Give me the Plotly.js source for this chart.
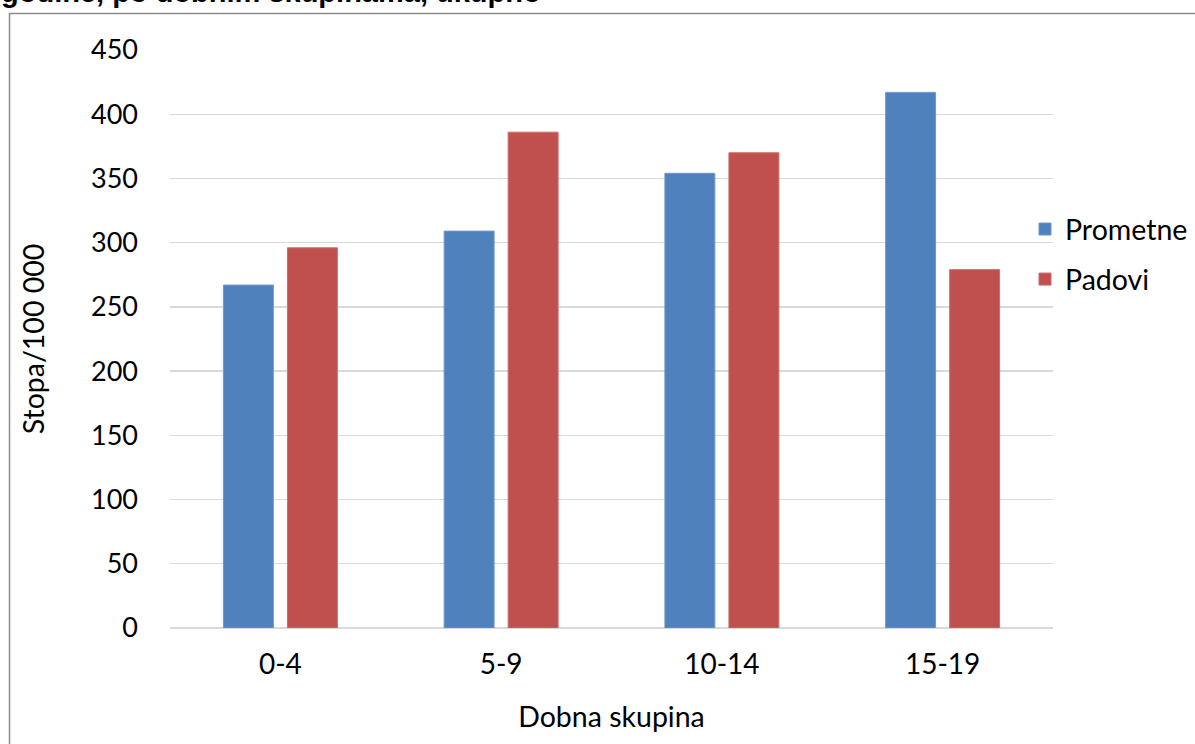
<!DOCTYPE html>
<html>
<head>
<meta charset="utf-8">
<script src="https://cdn.plot.ly/plotly-3.0.1.min.js"></script>
<style>html,body{margin:0;padding:0;background:#fff;}#chart{width:1195px;height:744px;}</style>
</head>
<body>
<div id="chart"></div>
<script>
const categories = ["0-4", "5-9", "10-14", "15-19"];
const prometne = [267, 309, 354, 417];
const padovi = [296, 386, 370, 279];
const seriesNames = ["Prometne", "Padovi"];
const titleText = "godine, po dobnim skupinama, ukupno";
const yTitle = "Stopa/100 000";
const xTitle = "Dobna skupina";

const FONT = "Lato, 'Open Sans', sans-serif";
const L = 170, R = 142, T = 50, B = 116;
const W = 1195, H = 744;
const pw = W - L - R, ph = H - T - B;
const px = v => (v - L) / pw;
const py = v => (H - B - v) / ph;

const traces = [
  {type: "bar", name: seriesNames[0], x: categories, y: prometne, legendgroup: "a",
   marker: {color: "#4f81bd", line: {color: "#6d97cc", width: 1}}, hoverinfo: "x+y"},
  {type: "bar", name: seriesNames[1], x: categories, y: padovi, legendgroup: "b",
   marker: {color: "#c0504d", line: {color: "#cf6b68", width: 1}}, hoverinfo: "x+y"}
];

const layout = {
  width: W, height: H,
  margin: {l: L, r: R, t: T, b: B, pad: 0, autoexpand: false},
  paper_bgcolor: "#fff", plot_bgcolor: "#fff",
  font: {family: FONT, size: 28, color: "#000"},
  barmode: "group", bargap: 0.42, bargroupgap: 0.22,
  showlegend: true,
  legend: {x: px(1025), y: py(204), xanchor: "left", yanchor: "top",
           font: {family: FONT, size: 28.5, color: "#000"}, traceorder: "grouped",
           itemwidth: 30, tracegroupgap: 10, bgcolor: "rgba(0,0,0,0)"},
  xaxis: {
    type: "category", showgrid: false, zeroline: false, showline: false,
    ticks: "", tickfont: {family: FONT, size: 28}, ticklabelstandoff: 17,
    title: {text: xTitle, font: {family: FONT, size: 28.5}, standoff: 28}
  },
  yaxis: {
    range: [0, 450], dtick: 50, tick0: 0, showgrid: true, gridcolor: "#d9d9d9", gridwidth: 1.3,
    zeroline: true, zerolinecolor: "#d9d9d9", zerolinewidth: 1.3, showline: false, ticks: "",
    tickfont: {family: FONT, size: 27}, ticklabelstandoff: 31,
    title: {text: yTitle, font: {family: FONT, size: 28.5}, standoff: 38}
  },
  shapes: [
    {type: "rect", xref: "paper", yref: "paper", layer: "below",
     x0: px(9.5), x1: px(1210), y0: py(760), y1: py(13.5),
     line: {color: "#8c8c8c", width: 1.5}, fillcolor: "rgba(0,0,0,0)"}
  ],
  annotations: [
    {xref: "paper", yref: "paper", x: px(-1), y: py(10), xanchor: "left", yanchor: "bottom",
     text: "<b>" + titleText + "</b>", showarrow: false,
     font: {family: "'Liberation Sans', Arial, sans-serif", size: 29, color: "#000"}}
  ]
};

Plotly.newPlot("chart", traces, layout, {displayModeBar: false, staticPlot: true});
</script>
</body>
</html>
